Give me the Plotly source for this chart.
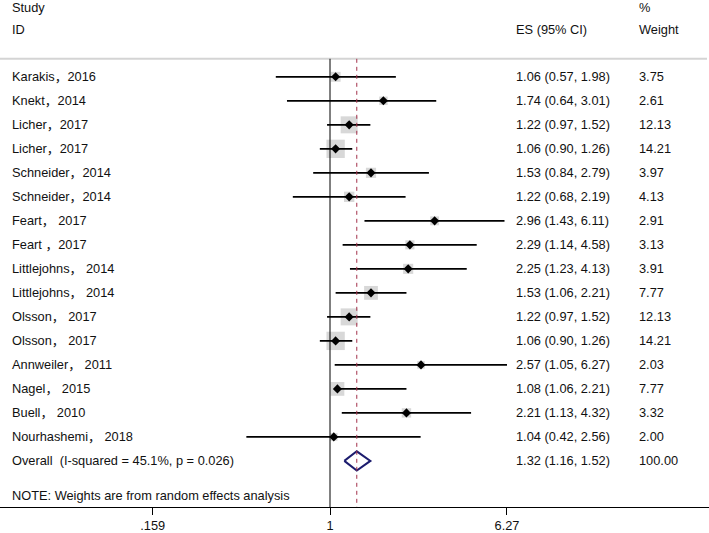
import plotly.graph_objects as go

studies = ["Karakis，2016", "Knekt，2014", "Licher，2017", "Licher，2017",
           "Schneider，2014", "Schneider，2014", "Feart， 2017", "Feart ，2017",
           "Littlejohns， 2014", "Littlejohns， 2014", "Olsson， 2017", "Olsson， 2017",
           "Annweiler， 2011", "Nagel， 2015", "Buell， 2010", "Nourhashemi， 2018"]
es = [1.06, 1.74, 1.22, 1.06, 1.53, 1.22, 2.96, 2.29, 2.25, 1.53, 1.22, 1.06, 2.57, 1.08, 2.21, 1.04]
lo = [0.57, 0.64, 0.97, 0.90, 0.84, 0.68, 1.43, 1.14, 1.23, 1.06, 0.97, 0.90, 1.05, 1.06, 1.13, 0.42]
hi = [1.98, 3.01, 1.52, 1.26, 2.79, 2.19, 6.11, 4.58, 4.13, 2.21, 1.52, 1.26, 6.27, 2.21, 4.32, 2.56]
weights = [3.75, 2.61, 12.13, 14.21, 3.97, 4.13, 2.91, 3.13, 3.91, 7.77, 12.13, 14.21, 2.03, 7.77, 3.32, 2.00]

overall_label = "Overall\u00a0 (I-squared = 45.1%, p = 0.026)"
overall_es, overall_lo, overall_hi, overall_w = 1.32, 1.16, 1.52, 100.00
note = "NOTE: Weights are from random effects analysis"
tick_vals = [0.159, 1, 6.27]
tick_text = [".159", "1", "6.27"]

W, H = 709, 533
FONT = "Liberation Sans, Arial, Noto Sans CJK SC, sans-serif"
FS = 12.8
TXT = "#111111"

rows = list(range(len(studies)))
overall_row = len(studies)

fig = go.Figure()

# weight squares
fig.add_trace(go.Scatter(
    x=es, y=rows, mode="markers",
    marker=dict(symbol="square", color="#c8c8c8",
                size=[4.6 * w ** 0.5 + 1 for w in weights], line=dict(width=0)),
    hoverinfo="skip", showlegend=False))

# CI lines
cx, cy = [], []
for r, a, b in zip(rows, lo, hi):
    cx += [a, b, None]
    cy += [r, r, None]
fig.add_trace(go.Scatter(x=cx, y=cy, mode="lines",
                         line=dict(color="black", width=1.8),
                         hoverinfo="skip", showlegend=False))

# point estimates
fig.add_trace(go.Scatter(x=es, y=rows, mode="markers",
                         marker=dict(symbol="diamond", color="black", size=7),
                         hoverinfo="skip", showlegend=False))

# overall diamond
dh = 0.4
fig.add_trace(go.Scatter(
    x=[overall_lo, overall_es, overall_hi, overall_es, overall_lo],
    y=[overall_row, overall_row - dh, overall_row, overall_row + dh, overall_row],
    mode="lines", line=dict(color="#1c1c6e", width=2),
    hoverinfo="skip", showlegend=False))

y_top, y_bot = -3.2, 17.92
sep_y = -0.75

shapes = [
    dict(type="line", xref="paper", yref="y", x0=0, x1=707 / W, y0=sep_y, y1=sep_y,
         line=dict(color="#d4d4d4", width=2)),
    dict(type="line", xref="x", yref="y", x0=1, x1=1, y0=sep_y, y1=y_bot,
         line=dict(color="black", width=1)),
    dict(type="line", xref="x", yref="y", x0=overall_es, x1=overall_es, y0=sep_y, y1=y_bot,
         line=dict(color="#a3304a", width=1, dash="4px,4px")),
]

ann = []
def txt(x_px, y, s):
    ann.append(dict(xref="paper", yref="y", x=x_px / W, y=y, text=s, showarrow=False,
                    xanchor="left", yanchor="middle",
                    font=dict(family=FONT, size=FS, color=TXT)))

txt(10, -2.88, "Study")
txt(10, -1.96, "ID")
txt(514, -1.96, "ES (95% CI)")
txt(637, -2.88, "%")
txt(637, -1.96, "Weight")
for r, s, e, a, b, w in zip(rows, studies, es, lo, hi, weights):
    txt(10, r, s)
    txt(514, r, f"{e:.2f} ({a:.2f}, {b:.2f})")
    txt(637, r, f"{w:.2f}")
txt(10, overall_row, overall_label)
txt(514, overall_row, f"{overall_es:.2f} ({overall_lo:.2f}, {overall_hi:.2f})")
txt(637, overall_row, f"{overall_w:.2f}")
txt(10, 17.45, note)

px_per_dec = 222.0
x0_px = 330.0
xr = [(0 - x0_px) / px_per_dec, (W - x0_px) / px_per_dec]

fig.update_layout(
    width=W, height=H,
    margin=dict(l=0, r=0, t=0, b=26, pad=0),
    paper_bgcolor="white", plot_bgcolor="white",
    shapes=shapes, annotations=ann,
    xaxis=dict(type="log", range=xr, showgrid=False, zeroline=False,
               showline=True, linecolor="black", linewidth=1,
               ticks="outside", ticklen=7, tickcolor="black", tickwidth=1,
               tickvals=tick_vals, ticktext=tick_text,
               tickfont=dict(family=FONT, size=FS, color=TXT)),
    yaxis=dict(range=[y_bot, y_top], visible=False, showgrid=False, zeroline=False),
)

fig.write_html("out.html", config={"displayModeBar": False},
               post_script="document.body.style.margin='0';document.body.style.overflow='hidden';")
